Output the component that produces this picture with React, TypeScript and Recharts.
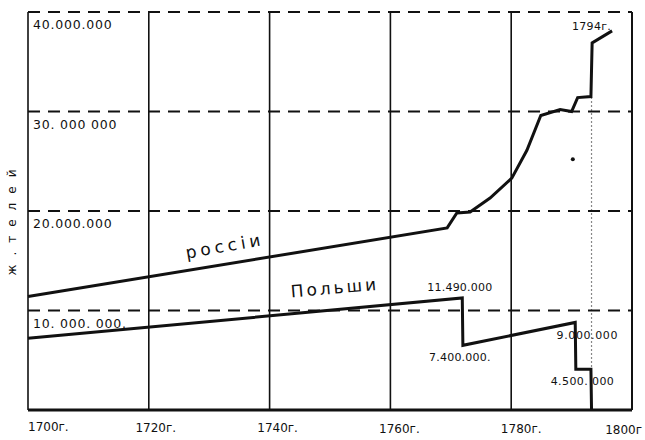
import {
  CartesianGrid,
  Line,
  LineChart,
  ReferenceDot,
  ReferenceLine,
  XAxis,
  YAxis,
} from "recharts";

// population, millions
const russiaYears = [1700, 1769.4, 1771, 1773.2, 1776.5, 1780.1, 1782.6, 1784.9, 1788.1, 1790, 1791, 1793.2, 1793.4, 1796.7];
const russiaPop = [11.4, 18.3, 19.8, 19.9, 21.3, 23.3, 26.1, 29.6, 30.2, 30.0, 31.4, 31.5, 36.9, 38.1];

const polandYears = [1700, 1771.9, 1772.0, 1790.6, 1790.7, 1793.2, 1793.3];
const polandPop = [7.2, 11.26, 6.5, 8.8, 4.1, 4.1, 0];

const xTicks = [1700, 1720, 1740, 1760, 1780, 1800];
const xTickLabels = ["1700г.", "1720г.", "1740г.", "1760г.", "1780г.", "1800г"];
const yLines = [10, 20, 30, 40];
const yLineLabels = ["10. 000. 000.", "20.000.000", "30. 000 000", "40.000.000"];

// handwritten notes on the sheet: [text, year, value, fontSize, angle, spacing]
const notes: [string, number, number, number, number, number][] = [
  ["1794г.", 1793.3, 38.5, 11, 0, 0.3],
  ["11.490.000", 1771.5, 12.3, 11, 0, 0.2],
  ["7.400.000.", 1771.5, 5.3, 11, 0, 0.2],
  ["9.000.000", 1792.6, 7.5, 11, 0, 0.6],
  ["4.500. 000", 1791.8, 2.9, 11, 0, 0.4],
  ["россiи", 1732.6, 16.5, 17, -10, 4],
  ["Польши", 1750.8, 12.3, 17, -5, 3],
  ["ж.телей", 1697.4, 19.3, 12, -90, 9],
];

const russia = russiaYears.map((year, i) => ({ year, pop: russiaPop[i] }));
const poland = polandYears.map((year, i) => ({ year, pop: polandPop[i] }));

const INK = "#111";
const FONT = "'DejaVu Sans', sans-serif";

const XTick = (p: any) => {
  const i = xTicks.indexOf(p.payload.value);
  const last = i === xTicks.length - 1;
  const anchor = i === 0 ? "start" : last ? "end" : "middle";
  const dx = i === 0 ? 0 : last ? 13 : 6 + i;
  return (
    <text
      x={p.x + dx}
      y={p.y + 13 + i * 0.6}
      textAnchor={anchor}
      fontFamily={FONT}
      fontSize={12}
      fill={INK}
    >
      {xTickLabels[i]}
    </text>
  );
};

const lineLabel = (text: string) => (props: any) => {
  const vb = props.viewBox || {};
  return (
    <text
      x={(vb.x ?? 0) + 5}
      y={(vb.y ?? 0) + 17}
      textAnchor="start"
      fontFamily={FONT}
      fontSize={12.5}
      letterSpacing={0.8}
      fill={INK}
    >
      {text}
    </text>
  );
};

const noteLabel = (text: string, size: number, angle: number, spacing: number) =>
  (props: any) => {
    const vb = props.viewBox || {};
    const cx = (vb.x ?? 0) + (vb.width ?? 0) / 2;
    const cy = (vb.y ?? 0) + (vb.height ?? 0) / 2;
    return (
      <text
        x={cx}
        y={cy}
        textAnchor="middle"
        dominantBaseline="central"
        fontFamily={FONT}
        fontSize={size}
        letterSpacing={spacing}
        fill={INK}
        transform={angle ? `rotate(${angle} ${cx} ${cy})` : undefined}
      >
        {text}
      </text>
    );
  };

export default function App() {
  return (
    <div
      style={{
        position: "absolute",
        left: 0,
        top: 0,
        width: 645,
        height: 440,
        background: "#fff",
      }}
    >
      <LineChart
        width={645}
        height={440}
        margin={{ top: 12, right: 13, left: 28, bottom: 0 }}
      >
        <CartesianGrid horizontal={false} stroke={INK} strokeWidth={1.6} />
        <XAxis
          dataKey="year"
          type="number"
          domain={[1700, 1800]}
          ticks={xTicks}
          height={30}
          axisLine={{ stroke: INK, strokeWidth: 3 }}
          tickLine={false}
          tick={<XTick />}
          allowDuplicatedCategory={false}
        />
        <YAxis
          type="number"
          domain={[0, 40]}
          width={0}
          mirror
          axisLine={{ stroke: INK, strokeWidth: 3 }}
          tickLine={false}
          tick={false}
        />
        {yLines.map((v, i) => (
          <ReferenceLine
            key={v}
            y={v}
            stroke={INK}
            strokeWidth={2}
            strokeDasharray="12 8"
            label={lineLabel(yLineLabels[i])}
          />
        ))}
        <ReferenceLine x={1800} stroke={INK} strokeWidth={2} />
        <ReferenceLine
          segment={[
            { x: 1793.3, y: 31.4 },
            { x: 1793.3, y: 4.1 },
          ]}
          stroke={INK}
          strokeWidth={1.2}
          strokeDasharray="1 3"
        />
        <Line
          data={russia}
          dataKey="pop"
          type="linear"
          stroke={INK}
          strokeWidth={3}
          dot={false}
          isAnimationActive={false}
        />
        <Line
          data={poland}
          dataKey="pop"
          type="linear"
          stroke={INK}
          strokeWidth={3}
          dot={false}
          isAnimationActive={false}
        />
        <ReferenceDot x={1790.2} y={25.2} r={2} fill={INK} stroke="none" />
        {notes.map(([text, year, value, size, angle, spacing]) => (
          <ReferenceDot
            key={text}
            x={year}
            y={value}
            r={0}
            stroke="none"
            fill="none"
            ifOverflow="visible"
            label={noteLabel(text, size, angle, spacing)}
          />
        ))}
      </LineChart>
    </div>
  );
}
